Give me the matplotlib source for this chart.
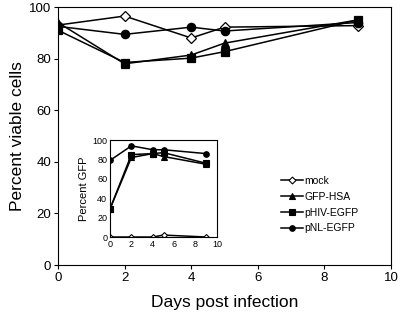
import matplotlib
matplotlib.use('Agg')
import matplotlib.pyplot as plt

plt.rcParams['font.family'] = ['Liberation Sans', 'DejaVu Sans']

days = [0, 2, 4, 5, 9]

# main panel: percent viable cells
mock = [93, 96.5, 88, 92.2, 92.8]
gfp_hsa = [94, 78, 81.4, 86, 95]
phiv = [91, 78.5, 80.2, 82.7, 95]
pnl = [92.5, 89.4, 92.2, 90.7, 94]

# inset: percent GFP
mock_gfp = [0, 0, 0, 2, 0]
gfp_hsa_gfp = [29, 82, 86, 83, 75]
phiv_gfp = [29, 85, 86, 87, 76]
pnl_gfp = [79, 94, 90, 90, 86]

labels = ['mock', 'GFP-HSA', 'pHIV-EGFP', 'pNL-EGFP']
markers = ['D', '^', 's', 'o']
facecols = ['white', 'black', 'black', 'black']

fig = plt.figure(figsize=(4, 3.19), dpi=100)
ax = fig.add_axes([0.145, 0.169, 0.8325, 0.809])

main_series = [mock, gfp_hsa, phiv, pnl]
for vals, m, fc in zip(main_series, markers, facecols):
    ax.plot(days, vals, color='black', lw=1.1, marker=m, ms=6 if m != 'D' else 5.5,
            mfc=fc, mec='black', mew=0.9)

ax.set_xlim(0, 10)
ax.set_ylim(0, 100)
ax.set_xticks(range(0, 11, 2))
ax.set_yticks(range(0, 101, 20))
ax.tick_params(labelsize=9.5, length=3, width=0.8, direction='out', pad=2)
for s in ax.spines.values():
    s.set_linewidth(0.8)
ax.set_xlabel('Days post infection', fontsize=12.5, labelpad=8)
ax.set_ylabel('Percent viable cells', fontsize=12.5, labelpad=3)

# legend
handles = []
for m, fc, lab in zip(markers, facecols, labels):
    h, = ax.plot([], [], color='black', lw=1.1, marker=m, ms=4 if m != 'D' else 3.5,
                 mfc=fc, mec='black', mew=0.8, label=lab)
    handles.append(h)
ax.legend(handles=handles, loc='upper left', bbox_to_anchor=(0.655, 0.365),
          frameon=False, fontsize=7.5, handlelength=2.1, handletextpad=0.1,
          labelspacing=0.55, borderpad=0)

# inset
ins = fig.add_axes([0.275, 0.257, 0.2675, 0.304])
inset_series = [mock_gfp, gfp_hsa_gfp, phiv_gfp, pnl_gfp]
for vals, m, fc in zip(inset_series, markers, facecols):
    ins.plot(days, vals, color='black', lw=1.1, marker=m, ms=4 if m != 'D' else 3,
             mfc=fc, mec='black', mew=0.8)
ins.set_xlim(0, 10)
ins.set_ylim(0, 100)
ins.set_xticks(range(0, 11, 2))
ins.set_yticks(range(0, 101, 20))
ins.tick_params(labelsize=6.5, length=0, pad=2)
for s in ins.spines.values():
    s.set_linewidth(0.8)
ins.set_ylabel('Percent GFP', fontsize=8, labelpad=2)

fig.savefig('out.png', dpi=100)
